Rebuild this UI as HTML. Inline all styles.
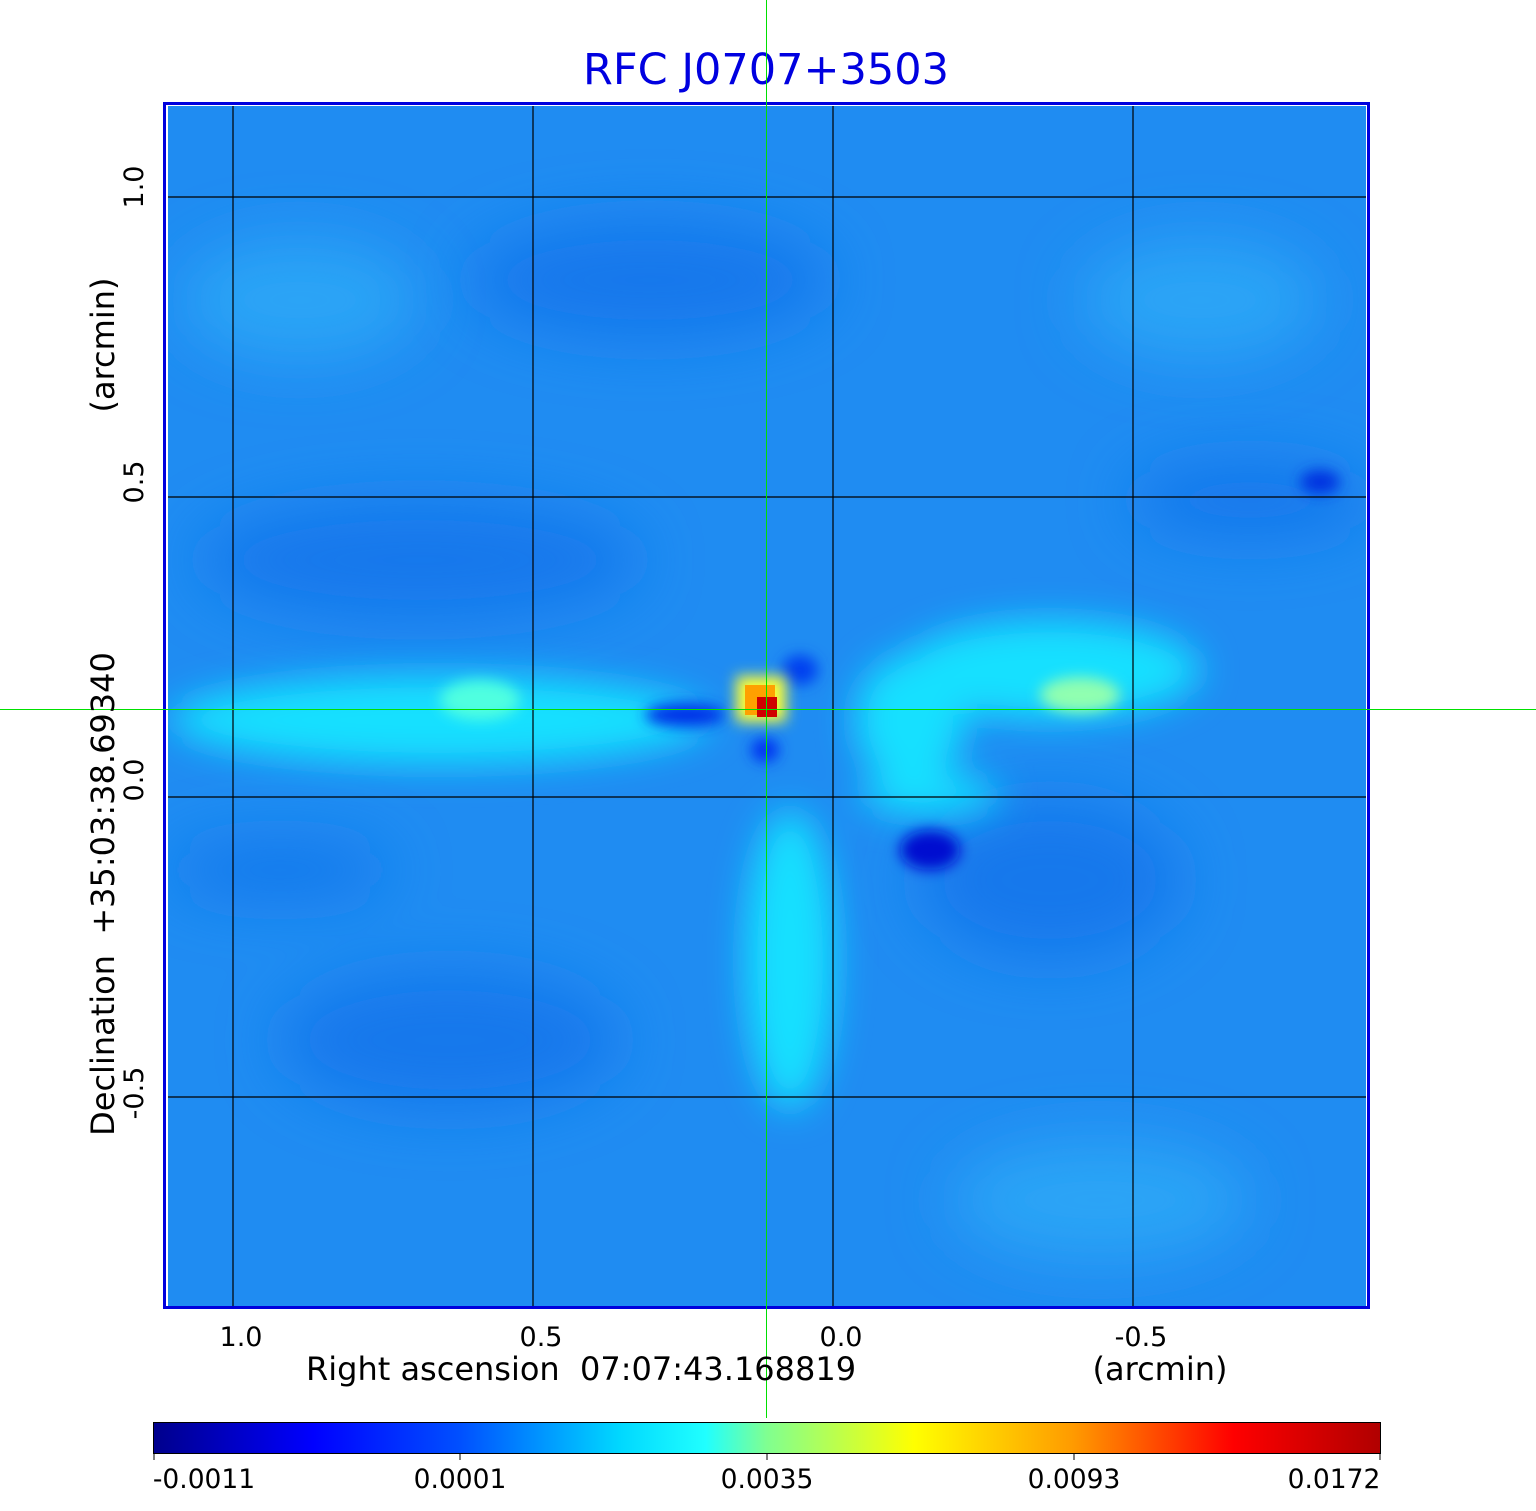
<!DOCTYPE html>
<html><head><meta charset="utf-8"><style>
body{margin:0;background:#fff;}
svg{display:block;font-family:"DejaVu Sans","Liberation Sans",sans-serif;}
</style></head><body>
<svg width="1536" height="1511" viewBox="0 0 1536 1511" xmlns="http://www.w3.org/2000/svg">
<defs>
<filter id="b1" x="-50%" y="-50%" width="200%" height="200%"><feGaussianBlur stdDeviation="30"/></filter>
<filter id="b2" x="-50%" y="-50%" width="200%" height="200%"><feGaussianBlur stdDeviation="18"/></filter>
<filter id="b3" x="-50%" y="-50%" width="200%" height="200%"><feGaussianBlur stdDeviation="7"/></filter>
<clipPath id="c"><rect x="168" y="106" width="1198" height="1200"/></clipPath>
<linearGradient id="jet" x1="0" x2="1" y1="0" y2="0">
<stop offset="0" stop-color="#00008c"/>
<stop offset="0.13" stop-color="#0000ff"/>
<stop offset="0.25" stop-color="#0050ff"/>
<stop offset="0.38" stop-color="#00d8ff"/>
<stop offset="0.45" stop-color="#20ffff"/>
<stop offset="0.5" stop-color="#80ff90"/>
<stop offset="0.62" stop-color="#ffff00"/>
<stop offset="0.75" stop-color="#ff9a00"/>
<stop offset="0.88" stop-color="#ff0000"/>
<stop offset="1" stop-color="#b00000"/>
</linearGradient>
</defs>
<text x="766" y="84" font-size="43" fill="#0000e0" text-anchor="middle">RFC J0707+3503</text>
<g clip-path="url(#c)">
<rect x="160" y="100" width="1220" height="1220" fill="#1f8cf2"/>
<g filter="url(#b1)" fill="#1878ec">
<ellipse cx="650" cy="280" rx="180" ry="60"/>
<ellipse cx="420" cy="560" rx="220" ry="60"/>
<ellipse cx="450" cy="1040" rx="170" ry="70"/>
<ellipse cx="1250" cy="500" rx="120" ry="40"/>
<ellipse cx="1050" cy="880" rx="130" ry="80"/>
<ellipse cx="280" cy="870" rx="110" ry="30"/>
</g>
<g filter="url(#b1)" fill="#2aa4f6">
<ellipse cx="300" cy="300" rx="120" ry="60"/>
<ellipse cx="1100" cy="1200" rx="150" ry="60"/>
<ellipse cx="1200" cy="300" rx="120" ry="60"/>
</g>
<g filter="url(#b2)" fill="#18e0ff">
<ellipse cx="440" cy="720" rx="270" ry="45"/>
<ellipse cx="790" cy="960" rx="45" ry="150"/>
<ellipse cx="1050" cy="670" rx="150" ry="50"/>
<ellipse cx="910" cy="720" rx="55" ry="65"/>
<ellipse cx="930" cy="795" rx="70" ry="20"/>
</g>
<g filter="url(#b3)">
<ellipse cx="480" cy="700" rx="40" ry="20" fill="#50ffe0"/>
<ellipse cx="1080" cy="695" rx="40" ry="18" fill="#90ffb0"/>
<ellipse cx="685" cy="715" rx="40" ry="12" fill="#0030e8"/>
<ellipse cx="930" cy="850" rx="30" ry="20" fill="#0010d0"/>
<ellipse cx="1320" cy="482" rx="20" ry="12" fill="#0030e0"/>
<ellipse cx="800" cy="670" rx="18" ry="15" fill="#0040f0"/>
<ellipse cx="765" cy="750" rx="14" ry="12" fill="#0030f0"/>
</g>
<rect x="736" y="676" width="50" height="46" fill="#ffff30" filter="url(#b3)"/>
<rect x="745" y="685" width="30" height="30" fill="#ffa000"/>
<rect x="757" y="697" width="20" height="20" fill="#d00000"/>
<g stroke="#000" stroke-width="1.2">
<line x1="233" y1="100" x2="233" y2="1310"/><line x1="533" y1="100" x2="533" y2="1310"/>
<line x1="833" y1="100" x2="833" y2="1310"/><line x1="1133" y1="100" x2="1133" y2="1310"/>
<line x1="160" y1="197" x2="1370" y2="197"/><line x1="160" y1="497" x2="1370" y2="497"/>
<line x1="160" y1="797" x2="1370" y2="797"/><line x1="160" y1="1097" x2="1370" y2="1097"/>
</g>
</g>
<rect x="164.5" y="103.5" width="1204" height="1204" fill="none" stroke="#0000dd" stroke-width="3"/>
<rect x="766" y="0" width="1" height="1418" fill="#00e000"/>
<rect x="0" y="709" width="1536" height="1" fill="#00e000"/>
<g font-size="27" fill="#000" text-anchor="middle">
<text x="241" y="1346">1.0</text><text x="541" y="1346">0.5</text>
<text x="841" y="1346">0.0</text><text x="1141" y="1346">-0.5</text>
<text transform="translate(143,187) rotate(-90)">1.0</text>
<text transform="translate(143,482) rotate(-90)">0.5</text>
<text transform="translate(143,780) rotate(-90)">0.0</text>
<text transform="translate(143,1093) rotate(-90)">-0.5</text>
</g>
<g font-size="32" fill="#000">
<text x="306" y="1380" xml:space="preserve">Right ascension  07:07:43.168819</text>
<text x="1160" y="1380" text-anchor="middle">(arcmin)</text>
<text transform="translate(114,894) rotate(-90)" text-anchor="middle" xml:space="preserve">Declination  +35:03:38.69340</text>
<text transform="translate(114,345) rotate(-90)" text-anchor="middle">(arcmin)</text>
</g>
<rect x="153.5" y="1422.5" width="1227" height="31" fill="url(#jet)" stroke="#000" stroke-width="1"/>
<g stroke="#000"><line x1="154" y1="1453" x2="154" y2="1460"/><line x1="460" y1="1453" x2="460" y2="1460"/><line x1="767" y1="1453" x2="767" y2="1460"/><line x1="1074" y1="1453" x2="1074" y2="1460"/><line x1="1380" y1="1453" x2="1380" y2="1460"/></g>
<g font-size="26.5" fill="#000" text-anchor="middle">
<text x="204" y="1488">-0.0011</text><text x="460" y="1488">0.0001</text>
<text x="767" y="1488">0.0035</text><text x="1074" y="1488">0.0093</text>
<text x="1334" y="1488">0.0172</text>
</g>
</svg>
</body></html>
